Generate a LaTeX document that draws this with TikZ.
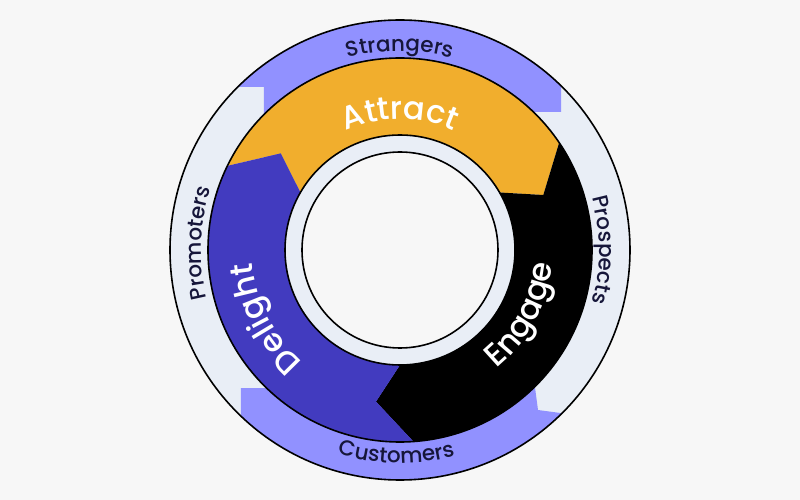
\documentclass[tikz,border=0pt]{standalone}
\usepackage{fontspec}
\setmainfont{Poppins}
\newfontfamily\mediumface{Poppins Medium}
\usetikzlibrary{decorations.text}

\definecolor{bgcol}{HTML}{F7F7F7}
\definecolor{bandlight}{HTML}{E9EEF6}
\definecolor{bandpurple}{HTML}{9191FF}
\definecolor{attractcol}{HTML}{F1AE2D}
\definecolor{engagecol}{HTML}{000000}
\definecolor{delightcol}{HTML}{423BBF}
\definecolor{labelcol}{HTML}{16163A}

\newcommand{\segfont}{\fontsize{32pt}{32pt}\selectfont\mediumface}
\newcommand{\bandfont}{\fontsize{21.5pt}{21.5pt}\selectfont\mediumface}

\begin{document}
\begin{tikzpicture}[x=1pt,y=1pt,
% Ring styles
		outline/.style={draw=black
							    , line width=1.6pt},
		disc/.style={outline
							    , fill=#1},
% Label styles
		seglabel/.style={decorate
							    , decoration={text along path
							    , text align=center
							    , text color=white
							    , text={|\segfont|#1}}},
		bandlabel/.style={decorate
							    , decoration={text along path
							    , text align=center
							    , text color=labelcol
							    , text={|\bandfont|#1}}}
	]
	\useasboundingbox (-400,-250) rectangle (400,250);
	\fill[bgcol] (-400,-250) rectangle (400,250);

%% Outer band
	\fill[bandlight] (0,0) circle[radius=230pt];
	\begin{scope}
		\clip (0,0) circle[radius=230pt];
		% strangers
		\fill[bandpurple] (-250,250) -- (161,250) -- (161,138) -- (0,138) -- (0,50)
			-- (-136,50) -- (-136,163) -- (-250,163) -- cycle;
		% customers
		\fill[bandpurple] (-159,-250) -- (-159,-138) -- (-70,-138) -- (-70,-100)
			-- (130,-100) -- (138,-160) -- (250,-175) -- (250,-250) -- cycle;
	\end{scope}

%% Ring segments: start / end / colour
	\foreach \s/\e/\c in {152/32/attractcol, 32/-88/engagecol, -88/-208/delightcol}
		\fill[\c] ({\s+2}:192pt) arc[start angle=\s+2, end angle=\e+2, radius=192pt]
			-- ({\e-11}:153.5pt) -- ({\e-2}:115pt)
			arc[start angle=\e-2, end angle=\s-2, radius=115pt]
			-- ({\s-11}:153.5pt) -- cycle;

	\draw[outline] (0,0) circle[radius=192pt];
	\draw[outline] (0,0) circle[radius=230pt];
	\path[disc=bandlight] (0,0) circle[radius=115pt];
	\path[disc=bgcol] (0,0) circle[radius=98pt];

%% Labels
	\path[seglabel=Attract] (160:131pt) arc[start angle=160, end angle=20, radius=131pt];
	\path[seglabel=Engage] (-89:153pt) arc[start angle=-89, end angle=33, radius=153pt];
	\path[seglabel=Delight] (268:148pt) arc[start angle=268, end angle=146, radius=148pt];

	\path[bandlabel=Strangers] (150:199pt) arc[start angle=150, end angle=30, radius=199pt];
	\path[bandlabel=Prospects] (60:199pt) arc[start angle=60, end angle=-60, radius=199pt];
	\path[bandlabel=Customers] (-151:213pt) arc[start angle=-151, end angle=-31, radius=213pt];
	\path[bandlabel=Promoters] (238:199pt) arc[start angle=238, end angle=118, radius=199pt];
\end{tikzpicture}
\end{document}
